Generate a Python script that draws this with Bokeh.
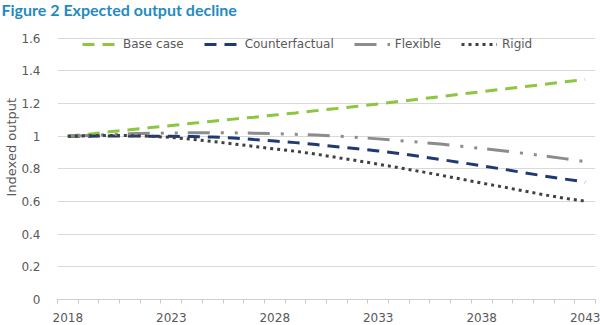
from bokeh.plotting import figure
from bokeh.models import Range1d, FixedTicker, Legend, Title
from bokeh.embed import file_html
from bokeh.resources import INLINE

# ---- data ----
years = list(range(2018, 2044))
label_years = [2018, 2023, 2028, 2033, 2038, 2043]
base_case = [1.000, 1.013, 1.027, 1.040, 1.053, 1.066, 1.079, 1.092, 1.105, 1.117,
             1.130, 1.143, 1.157, 1.170, 1.184, 1.198, 1.213, 1.228, 1.243, 1.258,
             1.273, 1.288, 1.303, 1.318, 1.333, 1.348]
counterfactual = [1.000, 1.000, 1.002, 1.002, 1.000, 1.000, 0.998, 0.995, 0.990, 0.980,
                  0.971, 0.961, 0.949, 0.936, 0.923, 0.910, 0.895, 0.877, 0.858, 0.839,
                  0.819, 0.799, 0.778, 0.757, 0.738, 0.720]
flexible = [1.000, 1.005, 1.010, 1.015, 1.018, 1.020, 1.022, 1.022, 1.021, 1.019,
            1.016, 1.012, 1.007, 1.001, 0.993, 0.984, 0.974, 0.963, 0.952, 0.939,
            0.925, 0.911, 0.896, 0.880, 0.863, 0.845]
rigid = [1.000, 1.003, 1.005, 1.004, 1.000, 0.993, 0.982, 0.968, 0.953, 0.938,
         0.922, 0.908, 0.890, 0.870, 0.850, 0.829, 0.807, 0.785, 0.762, 0.738,
         0.713, 0.690, 0.666, 0.642, 0.620, 0.603]
y_ticks = [0, 0.2, 0.4, 0.6, 0.8, 1, 1.2, 1.4, 1.6]
y_tick_labels = ["0", "0.2", "0.4", "0.6", "0.8", "1", "1.2", "1.4", "1.6"]
series_names = ["Base case", "Counterfactual", "Flexible", "Rigid"]
title_text = "Figure 2 Expected output decline"
y_label_text = "Indexed output"

FONT = "DejaVu Sans"
TXT = "#595959"

p = figure(width=600, height=325, output_backend="svg", toolbar_location=None,
           title=None,
           x_range=Range1d(years[0] - 0.5, years[-1] + 0.5),
           y_range=Range1d(y_ticks[0], y_ticks[-1] + 0.005),
           min_border_left=57, min_border_right=5, min_border_top=37, min_border_bottom=26)
p.outline_line_color = None
p.background_fill_color = "white"

# spacer between title and plot frame, then the title itself (further from frame)
spacer = Title(text=" ", text_font_size="2px", standoff=13)
p.add_layout(spacer, "above")
main_title = Title(text=title_text, text_font="Lato", text_font_style="bold",
                   text_font_size="16px", text_color="#1F8BC0", align="left",
                   vertical_align="top", offset=-56, standoff=-1)
p.add_layout(main_title, "above")

# x axis
xa = p.xaxis[0]
xa.ticker = FixedTicker(ticks=label_years,
                        minor_ticks=[y - 0.5 for y in years] + [years[-1] + 0.5])
xa.axis_line_color = "#d0d0d0"
xa.major_tick_in = 0
xa.major_tick_out = 0
xa.minor_tick_in = 0
xa.minor_tick_out = 4
xa.minor_tick_line_color = "#c8c8c8"
xa.major_label_text_font = FONT
xa.major_label_text_font_size = "12px"
xa.major_label_text_color = TXT
xa.major_label_standoff = 9

# y axis
ya = p.yaxis[0]
ya.ticker = FixedTicker(ticks=y_ticks)
ya.major_label_overrides = {t: l for t, l in zip(y_ticks, y_tick_labels)}
ya.axis_line_color = None
ya.major_tick_line_color = None
ya.minor_tick_line_color = None
ya.major_label_text_font = FONT
ya.major_label_text_font_size = "12px"
ya.major_label_text_color = TXT
ya.major_label_standoff = 11

p.xgrid.visible = False
p.ygrid.grid_line_color = "#d9d9d9"
p.ygrid.grid_line_width = 1

ylab = Title(text=y_label_text, align="left", offset=103, standoff=0,
             text_font=FONT, text_font_size="13px", text_font_style="normal",
             text_color=TXT)
p.add_layout(ylab, "left")

r_base = p.line(years, base_case, line_color="#8DC63F", line_width=3, line_dash="12 8")
r_cf = p.line(years, counterfactual, line_color="#1F3A72", line_width=3, line_dash="12 8")
r_fl = p.line(years, flexible, line_color="#8C8C8C", line_width=3, line_dash="22 11 3 11 3 10")
r_rg = p.line(years, rigid, line_color="#404040", line_width=3, line_dash="3 4")

legend = Legend(items=[(series_names[0], [r_base]), (series_names[1], [r_cf]),
                       (series_names[2], [r_fl]), (series_names[3], [r_rg])],
                orientation="horizontal", location=(25, 248),
                glyph_width=36, glyph_height=14, label_height=14, label_standoff=5,
                spacing=20, padding=0, margin=0, border_line_color=None,
                background_fill_alpha=0, label_text_font=FONT,
                label_text_font_size="12px", label_text_color=TXT)
p.add_layout(legend)

open("out.html", "w").write(file_html(p, INLINE))
